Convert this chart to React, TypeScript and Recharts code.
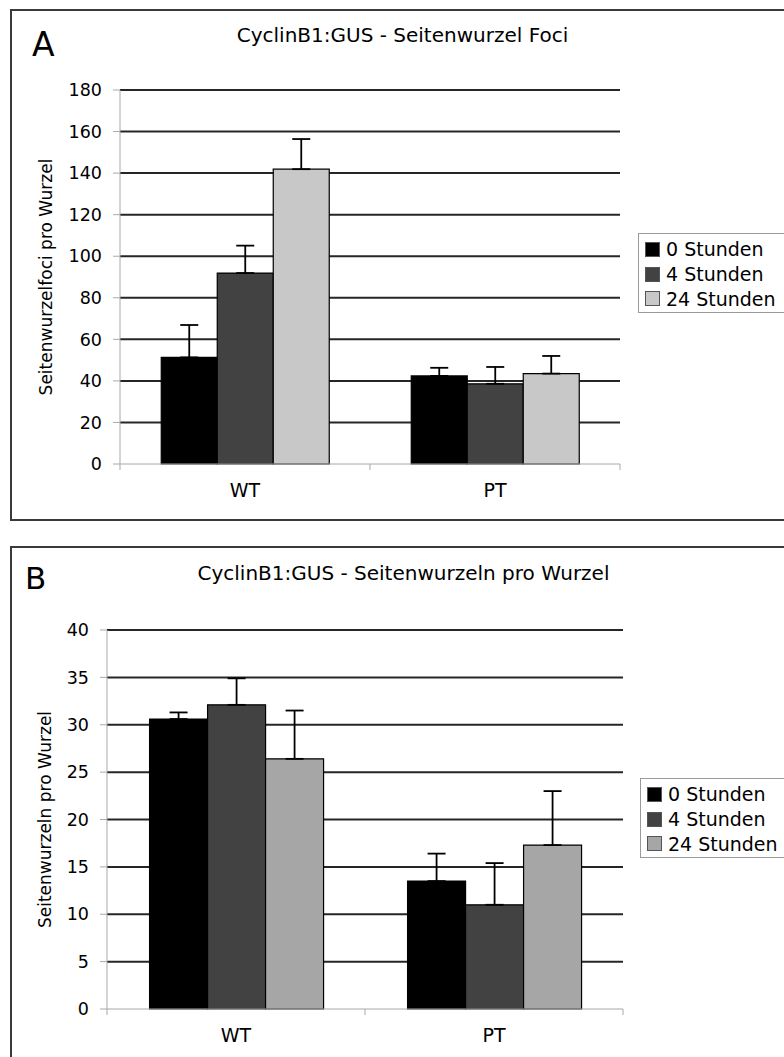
import React from 'react';
import { BarChart, Bar, XAxis, YAxis, CartesianGrid, ErrorBar, Legend } from 'recharts';

// ---------- data ----------
const categories = ['WT', 'PT'];
const seriesNames = ['0 Stunden', '4 Stunden', '24 Stunden'];

// Panel A: Seitenwurzelfoci pro Wurzel
const fociH0 = [51.3, 42.4];
const fociH4 = [91.9, 38.6];
const fociH24 = [141.9, 43.5];
const fociErrH0 = [15.6, 3.9];
const fociErrH4 = [13.2, 8.1];
const fociErrH24 = [14.5, 8.5];
const fociTicks = [0, 20, 40, 60, 80, 100, 120, 140, 160, 180];

// Panel B: Seitenwurzeln pro Wurzel
const rootsH0 = [30.6, 13.5];
const rootsH4 = [32.1, 11.0];
const rootsH24 = [26.4, 17.3];
const rootsErrH0 = [0.7, 2.9];
const rootsErrH4 = [2.8, 4.4];
const rootsErrH24 = [5.1, 5.7];
const rootsTicks = [0, 5, 10, 15, 20, 25, 30, 35, 40];

// ---------- styles ----------
const FONT = '"DejaVu Sans", Verdana, sans-serif';
const colorsA = ['#000000', '#424242', '#c8c8c8'];
const colorsB = ['#000000', '#424242', '#a6a6a6'];
const AXIS_GRAY = '#a8a8a8';
const Y_W = 80;
const X_H = 40;

const CHART_W = 784;
const A_H = 530;
const B_H = 527;
const A_MARGIN = { top: 90, right: 164, left: 40, bottom: 26 };
const B_MARGIN = { top: 100, right: 161, left: 27, bottom: 8 };
const A_PLOT_W = CHART_W - A_MARGIN.left - A_MARGIN.right - Y_W;
const B_PLOT_W = CHART_W - B_MARGIN.left - B_MARGIN.right - Y_W;
const A_PLOT_H = A_H - A_MARGIN.top - A_MARGIN.bottom - X_H;
const B_PLOT_H = B_H - B_MARGIN.top - B_MARGIN.bottom - X_H;

const dataA = categories.map((c, i) => ({
  cat: c,
  h0: fociH0[i],
  h4: fociH4[i],
  h24: fociH24[i],
  e0: [0, fociErrH0[i]],
  e4: [0, fociErrH4[i]],
  e24: [0, fociErrH24[i]],
}));

const dataB = categories.map((c, i) => ({
  cat: c,
  h0: rootsH0[i],
  h4: rootsH4[i],
  h24: rootsH24[i],
  e0: [0, rootsErrH0[i]],
  e4: [0, rootsErrH4[i]],
  e24: [0, rootsErrH24[i]],
}));

function makeCategoryTick(plotWidth: number) {
  return (props: any) => {
    const { x, y, payload, index, visibleTicksCount } = props;
    const band = plotWidth / (visibleTicksCount || 2);
    const half = band / 2;
    return (
      <g>
        <line x1={x - half} x2={x - half} y1={y} y2={y + 6} stroke={AXIS_GRAY} strokeWidth={1} />
        {index === visibleTicksCount - 1 ? (
          <line x1={x + half} x2={x + half} y1={y} y2={y + 6} stroke={AXIS_GRAY} strokeWidth={1} />
        ) : null}
        <text x={x} y={y + 33} textAnchor="middle" fontFamily={FONT} fontSize={19} fill="#000">
          {payload.value}
        </text>
      </g>
    );
  };
}

function makeLegend(colors: string[]) {
  return () => (
    <div
      style={{
        border: '1px solid #9a9a9a',
        background: '#fff',
        padding: '3px 0 3px 6px',
        fontFamily: FONT,
        fontSize: 19,
        width: 170,
        height: 80,
        boxSizing: 'border-box',
        color: '#000',
      }}
    >
      {seriesNames.map((name, i) => (
        <div key={name} style={{ display: 'flex', alignItems: 'center', height: 24.7, whiteSpace: 'nowrap' }}>
          <span
            style={{
              display: 'inline-block',
              width: 15,
              height: 15,
              background: colors[i],
              border: '1px solid #555',
              boxSizing: 'border-box',
              marginRight: 6,
            }}
          />
          <span style={{ lineHeight: '20px' }}>{name}</span>
        </div>
      ))}
    </div>
  );
}

function gridGen(ticks: number[], plotTop: number, plotH: number) {
  const min = ticks[0];
  const max = ticks[ticks.length - 1];
  return (args: any) => {
    const inner = ticks.filter((t) => t > min);
    const s = args && args.yAxis ? args.yAxis.scale : undefined;
    let f: ((v: number) => number) | null = null;
    if (typeof s === 'function') f = (v: number) => s(v);
    else if (s && !Array.isArray(s) && typeof s.map === 'function') f = (v: number) => s.map(v);
    if (f) {
      const pts = inner.map((t) => f!(t));
      if (pts.every((p) => typeof p === 'number' && isFinite(p))) return pts;
    }
    const off = args && args.offset;
    const top = off && isFinite(off.top) ? off.top : plotTop;
    const h = off && isFinite(off.height) ? off.height : plotH;
    return inner.map((t) => top + h * (1 - (t - min) / (max - min)));
  };
}

function Panel(props: {
  data: any[];
  ticks: number[];
  height: number;
  margin: any;
  plotW: number;
  plotH: number;
  colors: string[];
  yLabel: string;
  labelOffset: number;
  legendPos: { left: number; top: number };
}) {
  const { data, ticks, height, margin, plotW, plotH, colors, yLabel, labelOffset, legendPos } = props;
  const keys = ['h0', 'h4', 'h24'];
  const errKeys = ['e0', 'e4', 'e24'];
  return (
    <BarChart width={CHART_W} height={height} data={data} margin={margin} barCategoryGap="16.5%" barGap={0}>
      <CartesianGrid
        vertical={false}
        stroke="#262626"
        strokeWidth={2}
        horizontalCoordinatesGenerator={gridGen(ticks, margin.top, plotH)}
      />
      <XAxis
        dataKey="cat"
        height={X_H}
        tickLine={false}
        tickSize={0}
        tickMargin={0}
        axisLine={{ stroke: AXIS_GRAY }}
        tick={makeCategoryTick(plotW)}
        interval={0}
      />
      <YAxis
        width={Y_W}
        domain={[ticks[0], ticks[ticks.length - 1]]}
        ticks={ticks}
        interval={0}
        tickSize={7}
        tickMargin={11}
        axisLine={{ stroke: AXIS_GRAY }}
        tickLine={{ stroke: AXIS_GRAY }}
        tick={{ fill: '#000', fontSize: 17.5, fontFamily: FONT }}
        label={{
          value: yLabel,
          angle: -90,
          position: 'insideLeft',
          offset: labelOffset,
          style: { textAnchor: 'middle', fontFamily: FONT, fontSize: 17, fill: '#000' },
        }}
      />
      <Legend
        layout="vertical"
        align="center"
        verticalAlign="middle"
        wrapperStyle={{ left: legendPos.left, top: legendPos.top, width: 170 }}
        content={makeLegend(colors)}
      />
      {keys.map((k, i) => (
        <Bar
          key={k}
          dataKey={k}
          name={seriesNames[i]}
          fill={colors[i]}
          stroke="#000"
          strokeWidth={1.2}
          isAnimationActive={false}
        >
          <ErrorBar dataKey={errKeys[i]} width={9} stroke="#000" strokeWidth={1.8} direction="y" isAnimationActive={false} />
        </Bar>
      ))}
    </BarChart>
  );
}

export default function App() {
  return (
    <div
      style={{
        position: 'absolute',
        left: 0,
        top: 0,
        width: 784,
        height: 1057,
        overflow: 'hidden',
        background: '#fff',
      }}
    >
      {/* panel frames */}
      <div
        style={{
          position: 'absolute',
          left: 10,
          top: 8.5,
          width: 900,
          height: 512.5,
          border: '2px solid #3a3a3a',
          boxSizing: 'border-box',
        }}
      />
      <div
        style={{
          position: 'absolute',
          left: 10,
          top: 546,
          width: 900,
          height: 600,
          border: '2px solid #3a3a3a',
          boxSizing: 'border-box',
        }}
      />

      <div style={{ position: 'absolute', left: 0, top: 0 }}>
        <Panel
          data={dataA}
          ticks={fociTicks}
          height={A_H}
          margin={A_MARGIN}
          plotW={A_PLOT_W}
          plotH={A_PLOT_H}
          colors={colorsA}
          yLabel="Seitenwurzelfoci pro Wurzel"
          labelOffset={6}
          legendPos={{ left: 638, top: 233 }}
        />
      </div>
      <div style={{ position: 'absolute', left: 0, top: 530 }}>
        <Panel
          data={dataB}
          ticks={rootsTicks}
          height={B_H}
          margin={B_MARGIN}
          plotW={B_PLOT_W}
          plotH={B_PLOT_H}
          colors={colorsB}
          yLabel="Seitenwurzeln pro Wurzel"
          labelOffset={18}
          legendPos={{ left: 640, top: 248 }}
        />
      </div>

      {/* titles and panel letters */}
      <svg
        width={784}
        height={1057}
        style={{ position: 'absolute', left: 0, top: 0, pointerEvents: 'none' }}
      >
        <text x={32} y={56} fontFamily={FONT} fontSize={33} fill="#000">A</text>
        <text x={402.5} y={42} textAnchor="middle" fontFamily={FONT} fontSize={20} fill="#000">
          CyclinB1:GUS - Seitenwurzel Foci
        </text>
        <text x={25} y={589} fontFamily={FONT} fontSize={31} fill="#000">B</text>
        <text x={403.5} y={580} textAnchor="middle" fontFamily={FONT} fontSize={20} fill="#000">
          CyclinB1:GUS - Seitenwurzeln pro Wurzel
        </text>
      </svg>
    </div>
  );
}
